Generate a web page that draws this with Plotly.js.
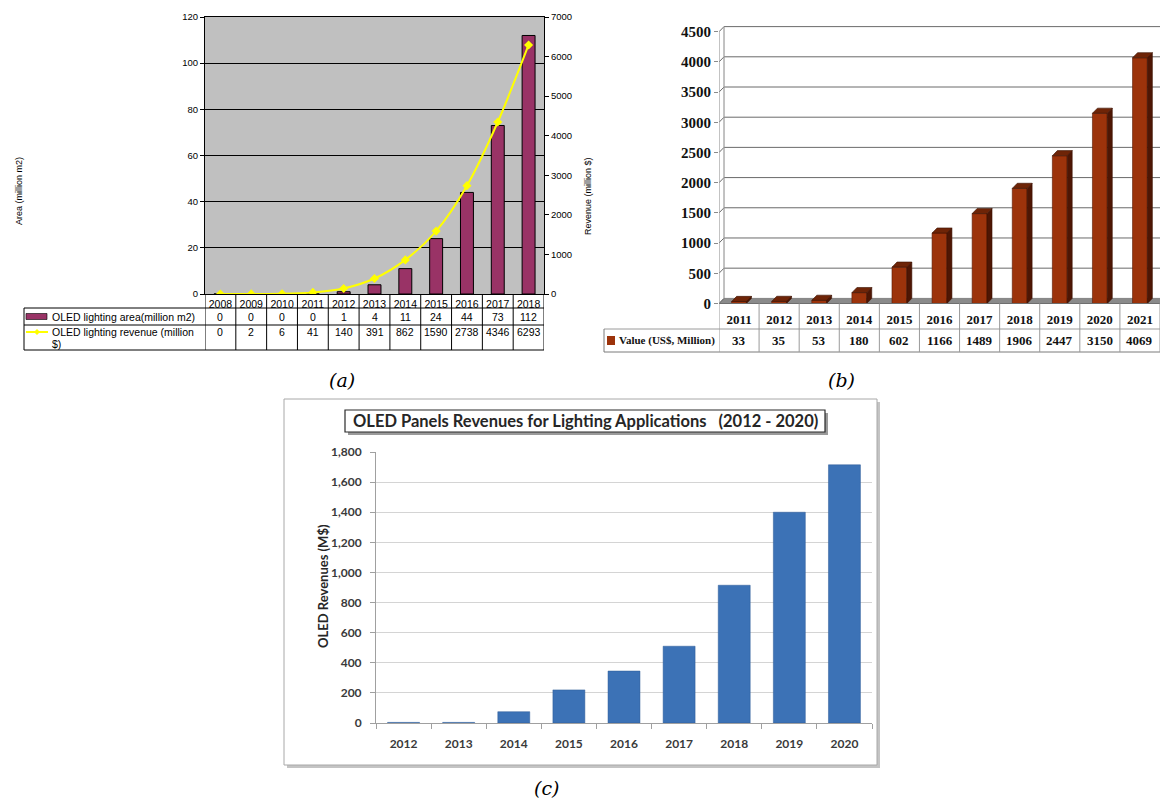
<!DOCTYPE html>
<html>
<head>
<meta charset="utf-8">
<script src="https://cdn.plot.ly/plotly-3.0.1.min.js"></script>
<style>
  html, body { margin: 0; padding: 0; background: #fff; }
  #chart { width: 1160px; height: 801px; }
</style>
</head>
<body>
<div id="chart"></div>
<script>
// ---- (a) OLED lighting area and revenue ----
const yearsA = ['2008', '2009', '2010', '2011', '2012', '2013', '2014', '2015', '2016', '2017', '2018'];
const areaA = [0, 0, 0, 0, 1, 4, 11, 24, 44, 73, 112];          // million m2
const revenueA = [0, 2, 6, 41, 140, 391, 862, 1590, 2738, 4346, 6293]; // million $

// ---- (b) market value ----
const yearsB = ['2011', '2012', '2013', '2014', '2015', '2016', '2017', '2018', '2019', '2020', '2021'];
const valueB = [33, 35, 53, 180, 602, 1166, 1489, 1906, 2447, 3150, 4069]; // US$ million

// ---- (c) OLED panel revenues for lighting ----
const yearsC = ['2012', '2013', '2014', '2015', '2016', '2017', '2018', '2019', '2020'];
const revenueC = [4, 4, 75, 220, 345, 510, 915, 1400, 1715]; // M$

const W = 1160, H = 801;
const px = x => x / W;          // pixel column -> paper x
const py = y => 1 - y / H;      // pixel row -> paper y

const idxA = yearsA.map((_, i) => i);
const idxB = yearsB.map((_, i) => i);
const idxC = yearsC.map((_, i) => i);

const arial = 'Liberation Sans, Arial, sans-serif';
const serif = 'Liberation Serif, Times New Roman, serif';
const lato = 'Lato, Open Sans, sans-serif';

// 3D look for panel (b): depth offsets in axis units
const BW = 0.37, DX = 0.125, DY = 85;
const sideX = [], sideY = [], topX = [], topY = [];
valueB.forEach((v, i) => {
  const l = i - BW / 2, r = i + BW / 2;
  sideX.push(r, r + DX, r + DX, r, r, null);
  sideY.push(0, DY, v + DY, v, 0, null);
  topX.push(l, l + DX, r + DX, r, l, null);
  topY.push(v, v + DY, v + DY, v, v, null);
});

const traces = [
  // (a)
  { type: 'bar', x: idxA, y: areaA, xaxis: 'x', yaxis: 'y', width: 0.42,
    marker: { color: '#993366', line: { color: '#000', width: 1 } },
    name: 'OLED lighting area(million m2)', hoverinfo: 'skip' },
  { type: 'scatter', mode: 'lines+markers', x: idxA, y: revenueA, xaxis: 'x', yaxis: 'y2',
    line: { color: '#ffff00', width: 2, shape: 'spline', smoothing: 0.8 },
    marker: { symbol: 'diamond', size: 7, color: '#ffff00' },
    name: 'OLED lighting revenue (million $)', hoverinfo: 'skip' },
  // (b)
  { type: 'bar', x: idxB, y: valueB, xaxis: 'x3', yaxis: 'y3', width: BW,
    marker: { color: '#9c330b', line: { color: '#5a1a03', width: 0.6 } },
    name: 'Value (US$, Million)', hoverinfo: 'skip' },
  { type: 'scatter', mode: 'lines', x: sideX, y: sideY, xaxis: 'x3', yaxis: 'y3',
    fill: 'toself', fillcolor: '#4e1604', line: { color: '#3a1002', width: 0.6 }, hoverinfo: 'skip' },
  { type: 'scatter', mode: 'lines', x: topX, y: topY, xaxis: 'x3', yaxis: 'y3',
    fill: 'toself', fillcolor: '#6e2407', line: { color: '#3a1002', width: 0.6 }, hoverinfo: 'skip' },
  // (c)
  { type: 'bar', x: idxC, y: revenueC, xaxis: 'x4', yaxis: 'y4', width: 0.58,
    marker: { color: '#3c72b6', line: { color: '#2c5a96', width: 0.5 } },
    name: 'OLED Revenues (M$)', hoverinfo: 'skip' }
];

const shapes = [];
const annotations = [];
const line = (x0, y0, x1, y1, color, width, xref, yref) => shapes.push({
  type: 'line', x0, y0, x1, y1, xref: xref || 'paper', yref: yref || 'paper',
  line: { color, width: width || 1 }, layer: 'above'
});
const text = (x, y, t, font, opts) => annotations.push(Object.assign({
  x, y, text: t, xref: 'paper', yref: 'paper', showarrow: false, font
}, opts || {}));

// ---------- (a) ----------
shapes.push({ type: 'rect', xref: 'x domain', yref: 'y domain', x0: 0, x1: 1, y0: 0, y1: 1,
  fillcolor: '#c0c0c0', line: { width: 0 }, layer: 'below' });
// data table under the chart
const aTop = 294, aR1 = 308, aR2 = 325, aBot = 350;
line(px(24), py(aR1), px(544), py(aR1), '#000', 1);
line(px(24), py(aR2), px(544), py(aR2), '#000', 1);
line(px(24), py(aBot), px(544), py(aBot), '#000', 1);
line(px(24), py(aR1), px(24), py(aBot), '#000', 1);
for (let i = 0; i <= yearsA.length; i++) {
  line(i - 0.5, py(aTop), i - 0.5, py(aBot), '#000', 1, 'x', 'paper');
}
// legend keys
shapes.push({ type: 'rect', xref: 'paper', yref: 'paper', x0: px(26), x1: px(47), y0: py(319.5), y1: py(313.5),
  fillcolor: '#993366', line: { color: '#000', width: 0.6 }, layer: 'above' });
line(px(26), py(332), px(48), py(332), '#ffff00', 2);
shapes.push({ type: 'path', xref: 'paper', yref: 'paper', layer: 'above',
  path: `M ${px(37)},${py(329)} L ${px(40)},${py(332)} L ${px(37)},${py(335)} L ${px(34)},${py(332)} Z`,
  fillcolor: '#ffff00', line: { width: 0 } });
const fA = { family: arial, size: 10.5, color: '#000' };
text(px(50), py(316.5), 'OLED lighting area(million m2)', fA, { xanchor: 'left', yanchor: 'middle' });
text(px(50), py(332), 'OLED lighting revenue (million', fA, { xanchor: 'left', yanchor: 'middle' });
text(px(50), py(344), '$)', fA, { xanchor: 'left', yanchor: 'middle' });
areaA.forEach((v, i) => text(i, py(316.5), String(v), fA, { xref: 'x', yanchor: 'middle' }));
revenueA.forEach((v, i) => text(i, py(332), String(v), fA, { xref: 'x', yanchor: 'middle' }));
text(px(12), py(155), 'Area (million m2)', { family: arial, size: 9, color: '#000' }, { textangle: -90 });
text(px(588), py(155), 'Revenue (million $)', { family: arial, size: 9, color: '#000' }, { textangle: -90 });

// ---------- (b) ----------
const gridB = [];
for (let v = 0; v <= 4500; v += 500) gridB.push(v);
// floor
shapes.push({ type: 'path', xref: 'x3', yref: 'y3', layer: 'below',
  path: `M -0.5,0 L ${-0.5 + DX},${DY} L ${10.5 + DX},${DY} L 10.5,0 Z`,
  fillcolor: '#8a8a8a', line: { color: '#6e6e6e', width: 0.6 } });
// back wall grid with slanted ticks at the wall corner
gridB.forEach(v => {
  if (v > 0) {
    shapes.push({ type: 'line', xref: 'x3', yref: 'y3', layer: 'below', x0: -0.5 + DX, x1: 10.6, y0: v + DY, y1: v + DY,
      line: { color: '#6a6a6a', width: 1 } });
  }
  shapes.push({ type: 'line', xref: 'x3', yref: 'y3', layer: 'below', x0: -0.5, x1: -0.5 + DX, y0: v, y1: v + DY,
    line: { color: '#6a6a6a', width: 1 } });
});
shapes.push({ type: 'line', xref: 'x3', yref: 'y3', layer: 'below', x0: -0.5, x1: -0.5, y0: 0, y1: 4500,
  line: { color: '#9a9a9a', width: 1.2 } });
shapes.push({ type: 'line', xref: 'x3', yref: 'y3', layer: 'below', x0: -0.5 + DX, x1: -0.5 + DX, y0: DY, y1: 4500 + DY,
  line: { color: '#9a9a9a', width: 1.2 } });
// table
const bTop = 303.5, bR1 = 329, bBot = 352;
line(px(719), py(bTop), 1, py(bTop), '#6e6e6e', 1);
line(px(604), py(bR1), 1, py(bR1), '#9a9a9a', 1);
line(px(604), py(bBot), 1, py(bBot), '#7a7a7a', 1);
line(px(604), py(bR1), px(604), py(bBot), '#7a7a7a', 1);
for (let i = 0; i <= yearsB.length; i++) {
  line(i - 0.5, py(bTop), i - 0.5, py(bBot), '#9a9a9a', 1, 'x3', 'paper');
}
shapes.push({ type: 'rect', xref: 'paper', yref: 'paper', x0: px(607), x1: px(615), y0: py(345), y1: py(336),
  fillcolor: '#9c330b', line: { width: 0 }, layer: 'above' });
const fB = { family: serif, size: 13, color: '#111', weight: 700 };
text(px(617), py(340.5), 'Value (US$, Million)', { family: serif, size: 11, color: '#111', weight: 700 },
  { xanchor: 'left', yanchor: 'middle' });
valueB.forEach((v, i) => text(i, py(340.5), String(v), fB, { xref: 'x3', yanchor: 'middle' }));

// ---------- (c) ----------
shapes.push({ type: 'rect', xref: 'paper', yref: 'paper', x0: px(287), x1: px(880), y0: py(768), y1: py(402),
  fillcolor: '#c4c4c4', line: { width: 0 }, layer: 'below' });
shapes.push({ type: 'rect', xref: 'paper', yref: 'paper', x0: px(284), x1: px(877), y0: py(765), y1: py(399),
  fillcolor: '#ffffff', line: { color: '#a8a8a8', width: 1 }, layer: 'below' });
shapes.push({ type: 'rect', xref: 'paper', yref: 'paper', x0: px(348), x1: px(828), y0: py(435), y1: py(413),
  fillcolor: '#9a9a9a', line: { width: 0 }, layer: 'below' });
shapes.push({ type: 'rect', xref: 'paper', yref: 'paper', x0: px(345), x1: px(825), y0: py(432), y1: py(410),
  fillcolor: '#ffffff', line: { color: '#2a2a2a', width: 1.2 }, layer: 'below' });
text(px(585), py(421), 'OLED Panels Revenues for Lighting Applications&nbsp;&nbsp;&nbsp;(2012 - 2020)',
  { family: lato, size: 16.5, color: '#262626', weight: 700 }, { yanchor: 'middle' });
text(px(313), py(586), 'OLED Revenues (M$)', { family: lato, size: 13, color: '#262626', weight: 700 },
  { textangle: -90, yanchor: 'middle' });

// panel captions
const cap = { family: 'DejaVu Serif, serif', size: 19, color: '#000', style: 'italic' };
text(px(327), py(380), '(a)', cap, { yanchor: 'middle' });
text(px(857), py(380), '(b)', cap, { yanchor: 'middle' });
text(px(546), py(788), '(c)', cap, { yanchor: 'middle' });

const layout = {
  width: W, height: H,
  margin: { l: 0, r: 0, t: 0, b: 0 },
  paper_bgcolor: '#ffffff', plot_bgcolor: 'rgba(0,0,0,0)',
  showlegend: false, bargap: 0,
  // (a)
  xaxis: { domain: [px(205), px(544)], range: [-0.5, 10.5], anchor: 'y',
    tickvals: idxA, ticktext: yearsA, ticks: '', showgrid: false, zeroline: false,
    showline: true, linecolor: '#000', mirror: true, ticklabelstandoff: 0,
    tickfont: { family: arial, size: 10.5, color: '#000' } },
  yaxis: { domain: [py(294), py(17)], range: [0, 120], dtick: 20, anchor: 'x',
    showgrid: true, gridcolor: '#000', gridwidth: 1, zeroline: false,
    showline: true, linecolor: '#000', mirror: true, ticks: 'outside', ticklen: 4, tickcolor: '#000',
    tickfont: { family: arial, size: 9.5, color: '#000' } },
  yaxis2: { overlaying: 'y', side: 'right', anchor: 'x', range: [0, 7000], dtick: 1000,
    showgrid: false, zeroline: false, showline: true, linecolor: '#000',
    ticks: 'outside', ticklen: 4, tickcolor: '#000',
    tickfont: { family: arial, size: 9.5, color: '#000' } },
  // (b)
  xaxis3: { domain: [px(719), 1], range: [-0.5, 10.5], anchor: 'y3',
    tickvals: idxB, ticktext: yearsB, ticks: '', showgrid: false, zeroline: false, showline: false,
    ticklabelstandoff: 6, tickfont: { family: serif, size: 13, color: '#111', weight: 700 } },
  yaxis3: { domain: [py(303.5), py(25.7)], range: [0, 4600], anchor: 'x3',
    tickvals: gridB, showgrid: false, zeroline: false, showline: false,
    ticks: 'outside', ticklen: 4, tickcolor: '#8a8a8a',
    tickfont: { family: serif, size: 15, color: '#111', weight: 700 } },
  // (c)
  xaxis4: { domain: [px(376), px(872)], range: [-0.5, 8.5], anchor: 'y4',
    tickvals: idxC, ticktext: yearsC, ticks: '', showgrid: false, zeroline: false,
    showline: true, linecolor: '#a0a0a0', ticklabelstandoff: 10,
    minor: { tickvals: [-0.5, 0.5, 1.5, 2.5, 3.5, 4.5, 5.5, 6.5, 7.5, 8.5], ticks: 'outside', ticklen: 5, tickcolor: '#a0a0a0', showgrid: false },
    tickfont: { family: lato, size: 12, color: '#3a3a3a', weight: 700 } },
  yaxis4: { domain: [py(723), py(452)], range: [0, 1800], dtick: 200, tickformat: ',d', anchor: 'x4',
    showgrid: true, gridcolor: '#d4d4d4', zeroline: false,
    showline: true, linecolor: '#a0a0a0', ticks: 'outside', ticklen: 5, tickcolor: '#a0a0a0',
    ticklabelstandoff: 6,
    tickfont: { family: lato, size: 12, color: '#3a3a3a', weight: 700 } },
  shapes, annotations
};

Plotly.newPlot('chart', traces, layout, { staticPlot: true, displayModeBar: false });
</script>
</body>
</html>
